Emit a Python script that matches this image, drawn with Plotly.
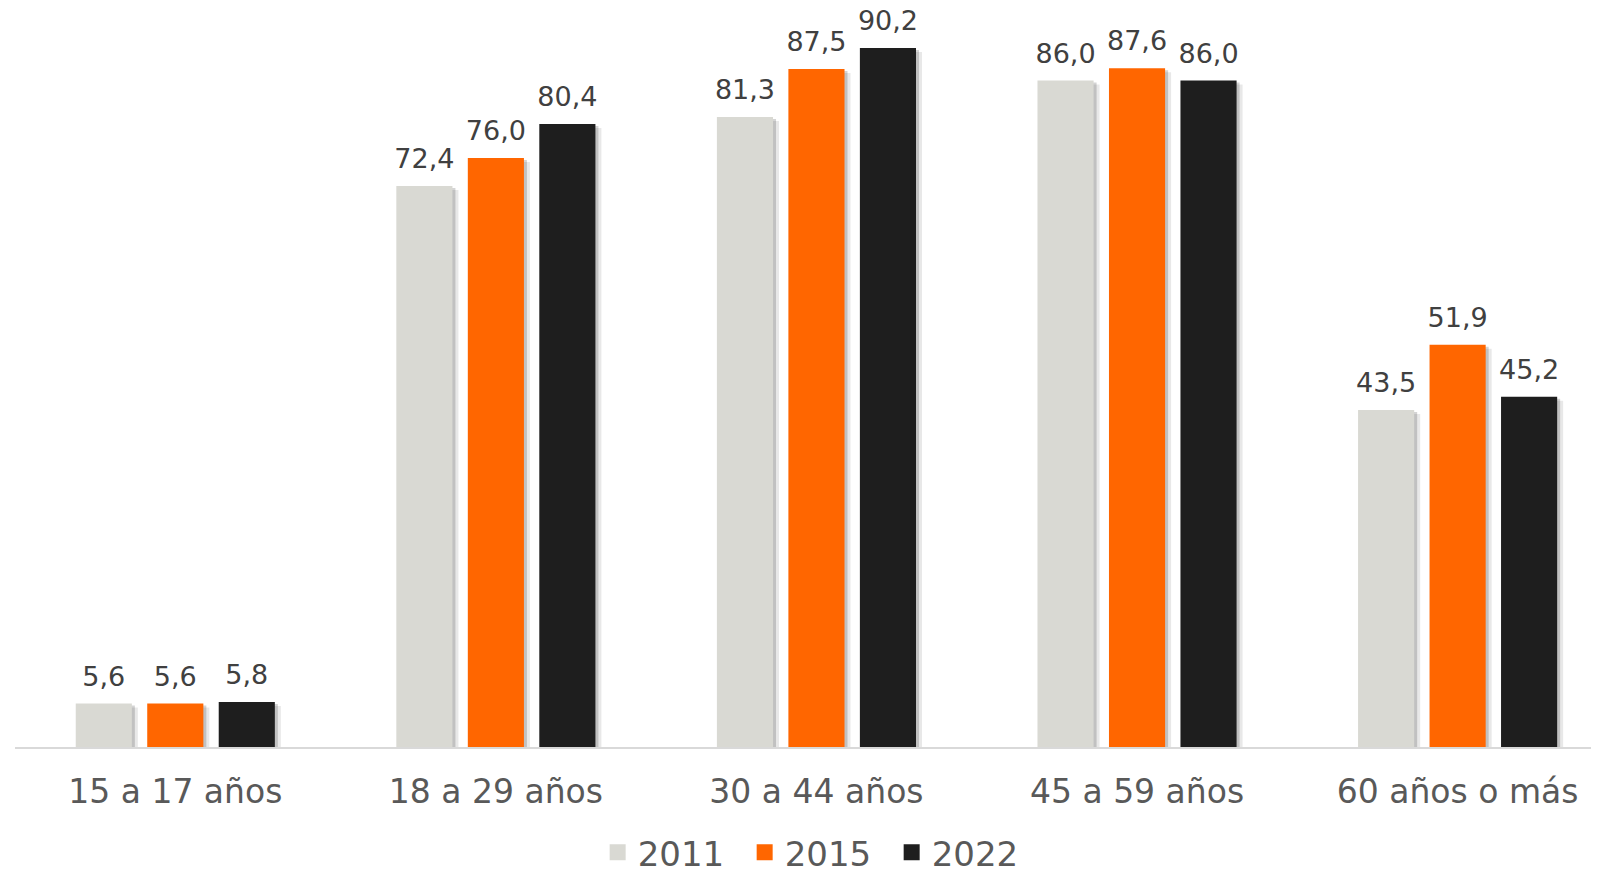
import plotly.graph_objects as go

categories = ["15 a 17 años", "18 a 29 años", "30 a 44 años", "45 a 59 años", "60 años o más"]
years = ["2011", "2015", "2022"]
v2011 = [5.6, 72.4, 81.3, 86.0, 43.5]
v2015 = [5.6, 76.0, 87.5, 87.6, 51.9]
v2022 = [5.8, 80.4, 90.2, 86.0, 45.2]
colors = ["#D9D9D3", "#FF6600", "#1E1E1E"]

series = [v2011, v2015, v2022]
groups = ["a", "b", "c"]
xs = list(range(len(categories)))

XR = [-0.5, 4.466]
YR = [0, 95.37]
PX_X = 1592 / (XR[1] - XR[0])
PX_Y = 738.5 / (YR[1] - YR[0])

fig = go.Figure()

# soft drop shadows: same bars on overlaid axes shifted by a few pixels
shadow_layers = [("x", "y", 6, 4, "rgba(0,0,0,0.09)"), ("x2", "y2", 3, 2, "rgba(0,0,0,0.17)")]
for xa, ya, dx, dy, sc in shadow_layers:
    for vals, g in zip(series, groups):
        fig.add_trace(go.Bar(
            x=xs, y=vals, xaxis=xa, yaxis=ya, marker=dict(color=sc, line=dict(width=0)),
            offsetgroup=g, alignmentgroup="all", showlegend=False, hoverinfo="skip",
            cliponaxis=False,
        ))

for name, vals, col, g in zip(years, series, colors, groups):
    fig.add_trace(go.Bar(
        x=xs, y=vals, name=name, xaxis="x3", yaxis="y3",
        marker=dict(color=col, line=dict(width=0)),
        offsetgroup=g, alignmentgroup="all", showlegend=False,
    ))
for name, vals, col, g in zip(years, series, colors, groups):
    fig.add_trace(go.Scatter(
        x=xs, y=vals, xaxis="x3", yaxis="y3", mode="markers+text",
        text=[f"{v:.1f}".replace(".", ",") for v in vals],
        textposition="top center", marker=dict(size=16, opacity=0),
        textfont=dict(family="DejaVu Sans", size=27, color="#404040"),
        offsetgroup=g, alignmentgroup="all", showlegend=False, cliponaxis=False,
        hoverinfo="skip",
    ))
for name, col, g in zip(years, colors, groups):
    fig.add_trace(go.Scatter(
        x=[None], y=[None], xaxis="x3", yaxis="y3", mode="markers", name=name,
        marker=dict(symbol="square", size=19, color=col),
        offsetgroup=g, alignmentgroup="all", showlegend=True,
    ))

def xr(dx):
    return [XR[0] - dx / PX_X, XR[1] - dx / PX_X]

def yr(dy):
    return [YR[0] + dy / PX_Y, YR[1] + dy / PX_Y]

hidden = dict(visible=False, showgrid=False, zeroline=False, fixedrange=True)

fig.update_layout(
    width=1599, height=872,
    margin=dict(l=7, r=0, t=0, b=133, autoexpand=False),
    paper_bgcolor="white", plot_bgcolor="white",
    barmode="group", bargap=0.331, bargroupgap=0.215,
    scattermode="group", scattergap=0.331,
    showlegend=True,
    legend=dict(orientation="h", x=0.5045, xanchor="center", y=-0.143, yanchor="middle",
                font=dict(family="DejaVu Sans", size=34, color="#595959"),
                itemwidth=30, traceorder="normal",
                entrywidth=102, entrywidthmode="pixels"),
    xaxis=dict(range=xr(6), **hidden),
    yaxis=dict(range=yr(4), **hidden),
    xaxis2=dict(range=xr(3), overlaying="x", anchor="y2", **hidden),
    yaxis2=dict(range=yr(2), overlaying="y", anchor="x2", **hidden),
    xaxis3=dict(tickvals=xs, ticktext=categories, range=XR, overlaying="x", anchor="y3",
                showline=True, linecolor="#D9D9D9", linewidth=2, ticks="",
                showgrid=False, zeroline=False, ticklabelstandoff=14,
                tickfont=dict(family="DejaVu Sans", size=33, color="#595959")),
    yaxis3=dict(range=YR, overlaying="y", anchor="x3", visible=False,
                showgrid=False, zeroline=False),
)

fig.write_html("out.html")
